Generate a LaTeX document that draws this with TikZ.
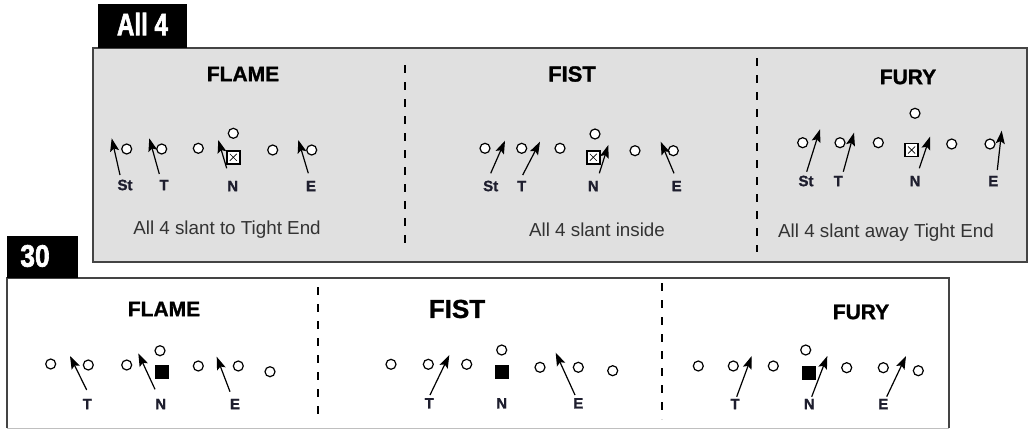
\documentclass[tikz,border=0pt]{standalone}
\usepackage{fontspec}
\setmainfont{Liberation Sans}
\newfontfamily\heavyfont[FakeBold=1.2]{Liberation Sans Bold}
\newfontfamily\tabfont[FakeBold=2.2]{Liberation Sans Bold}
\usetikzlibrary{arrows.meta}
\definecolor{panelgray}{HTML}{E0E0E0}
\definecolor{frame}{HTML}{444444}
\definecolor{captxt}{HTML}{333333}
\definecolor{lbltxt}{HTML}{1E1E2E}
\begin{document}
\begin{tikzpicture}[x=1pt,y=-1pt,
  plr/.style={circle,draw=black,fill=white,line width=1.2pt,inner sep=0pt,minimum size=10pt},
  xbox/.style={rectangle,draw=black,fill=white,line width=1.6pt,inner sep=0pt,minimum size=13pt,
    path picture={\draw[line width=0.7pt]
      ([xshift=3pt,yshift=-3pt]path picture bounding box.north west) -- ([xshift=-3pt,yshift=3pt]path picture bounding box.south east)
      ([xshift=-3pt,yshift=-3pt]path picture bounding box.north east) -- ([xshift=3pt,yshift=3pt]path picture bounding box.south west);}},
  fbox/.style={rectangle,fill=black,inner sep=0pt,minimum size=14pt},
  lbl/.style={font=\fontsize{15}{17}\heavyfont,text=lbltxt,inner sep=0pt},
  ttl/.style={font=\fontsize{21}{24}\heavyfont,inner sep=0pt},
  captn/.style={font=\fontsize{18.8}{21}\selectfont,text=captxt,inner sep=0pt},
  tabtxt/.style={font=\fontsize{31}{33}\tabfont,text=white,inner sep=0pt},
  mv/.style={-{Stealth[length=13pt,width=9pt,inset=2.5pt]},line width=1.2pt},
  divider/.style={draw=black,line width=1.4pt,dash pattern=on 8pt off 9pt}]
\useasboundingbox (0,0) rectangle (1029,429);
% panels
\path[fill=panelgray,draw=frame,line width=1.5pt] (93,48) rectangle (1027,262);
\path[fill=black] (98,4) rectangle (187,48);
\node[tabtxt] (tabA) at (142.5,24) {\scalebox{0.78}[1]{All 4}};
\path[fill=white] (7,278) rectangle (949,428);
\draw[frame,line width=1.5pt] (7,428) -- (7,278) -- (949,278) -- (949,428);
\draw[black!25,line width=1pt] (7,428) -- (949,428);
\path[fill=black] (7,236) rectangle (78,278);
\node[tabtxt] (tabB) at (35,256) {\scalebox{0.85}[1]{30}};
% dividers
\draw[divider] (405,65) -- (405,250);
\draw[divider] (757,58) -- (757,252);
\draw[divider] (318,287) -- (318,421);
\draw[divider] (662,283) -- (662,419);
% titles
\node[ttl] (t1) at (243,74) {FLAME};
\node[ttl,font=\fontsize{22}{24}\heavyfont] (t2) at (572,74) {FIST};
\node[ttl] (t3) at (908,77) {FURY};
\node[ttl] (t4) at (164,309) {FLAME};
\node[ttl,font=\fontsize{26}{28}\heavyfont] (t5) at (457,309) {FIST};
\node[ttl] (t6) at (861,312) {FURY};
% captions
\node[captn] (c1) at (227,230) {All 4 slant to Tight End};
\node[captn] (c2) at (597,230) {All 4 slant inside};
\node[captn] (c3) at (886,233) {All 4 slant away Tight End};
% players
\foreach \n/\x/\y in {fa1/126.7/149, fa2/161.7/149, fa3/198.3/148.3, fa4/233.3/133.3, fa5/272.7/150, fa6/311.7/150,
  fb1/485/148.3, fb2/521.7/148.3, fb3/560/148.3, fb4/595/134, fb5/635/150.7, fb6/673.3/150.7,
  fc1/802.7/142.7, fc2/840/142.7, fc3/878.3/142.7, fc4/915/113.3, fc5/951.7/144, fc6/990/144,
  ga1/50.7/364, ga2/88.3/365, ga3/126.7/365, ga4/160/350.7, ga5/198.3/366, ga6/238.3/366, ga7/270/371.7,
  gb1/391/364.3, gb2/428.3/364.3, gb3/466.7/364.3, gb4/501.7/350, gb5/540/367.3, gb6/578.3/367.3, gb7/612.7/370.7,
  gc1/698.3/366, gc2/733.3/366, gc3/773.3/366, gc4/805.7/350, gc5/846.7/367.7, gc6/883.3/367.7, gc7/918.3/370.7}
  {\node[plr] (\n) at (\x,\y) {};}
\node[xbox] (fax) at (233.3,157.3) {};
\node[xbox] (fbx) at (593.3,157.3) {};
\node[xbox] (fcx) at (911.7,150) {};
\node[fbox] (gax) at (161.7,371.7) {};
\node[fbox] (gbx) at (501.7,372.3) {};
\node[fbox] (gcx) at (809,372.7) {};
% labels
\foreach \n/\x/\y/\t in {laSt/125/185/St, laT/164/185/T, laN/232.7/186/N, laE/311/186/E,
  lbSt/490.7/186/St, lbT/521.7/186/T, lbN/593.3/186/N, lbE/676.7/186/E,
  lcSt/806/181/St, lcT/838.3/181/T, lcN/915/181/N, lcE/993.3/181/E,
  ldT/87.3/404/T, ldN/160.7/404/N, ldE/235/404/E,
  leT/429.3/403.3/T, leN/501.7/403.3/N, leE/578.3/403.3/E,
  lfT/735/404/T, lfN/809.3/404/N, lfE/883.3/404/E}
  {\node[lbl] (\n) at (\x,\y) {\t};}
% moves
\foreach \n/\sx/\sy/\tx/\ty in {maSt/120/175/111.7/138.3, maT/159.3/174/149.3/138.3, maN/226.7/168.3/218.3/140, maE/308.3/173.3/298.3/140,
  mbSt/490.7/173.3/505/140.7, mbT/522.7/175/540/141.7, mbN/599.3/173.3/608.3/145, mbE/674/173.3/660.7/141.7,
  mcSt/806.7/171.7/820/129.3, mcT/843.3/171.7/854/132.7, mcN/919.3/168.3/930/136.7, mcE/997.3/170/1001.7/130.7,
  mdT/86.7/390/70/356, mdN/155/389.3/138.3/353.3, mdE/230/391.7/216.7/356.7,
  meT/430/395/449.3/355, meE/575/395/555.7/352.7,
  mfT/736.7/396.7/751.7/356, mfN/811.7/396.7/827.3/356, mfE/886.7/396.7/906/356}
  {\coordinate (\n s) at (\sx,\sy); \coordinate (\n t) at (\tx,\ty); \draw[mv] (\n s) -- (\n t);}
\end{tikzpicture}
\end{document}
